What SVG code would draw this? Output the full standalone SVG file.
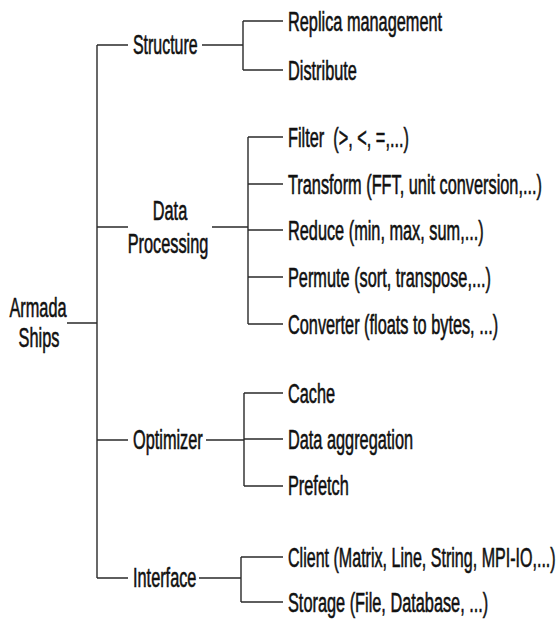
<svg xmlns="http://www.w3.org/2000/svg" width="560" height="621" viewBox="0 0 560 621">
  <style>
    .edge { fill: none; stroke: #2a2a2a; stroke-width: 1.4; }
    text { font-family: "Liberation Sans", Arial, sans-serif; font-size: 27px; fill: #111; stroke: #111; stroke-width: 0.6; }
    .mid { text-anchor: middle; }
  </style>
  <rect width="560" height="621" fill="#ffffff"/>

  <!-- tree connectors -->
  <g id="connectors" class="edge">
    <!-- root -->
    <path d="M67 323 H97 M97 45 V578"/>
    <!-- Structure -->
    <path d="M97 45 H128 M202 45 H243 M243 21 V70 M243 21 H283 M243 70 H283"/>
    <!-- Data Processing -->
    <path d="M97 227 H128 M212 227 H248 M248 137 V324 M248 137 H283 M248 184 H283 M248 230 H283 M248 277 H283 M248 324 H283"/>
    <!-- Optimizer -->
    <path d="M97 440 H128 M206 440 H244 M244 393 V486 M244 393 H283 M244 439 H283 M244 486 H283"/>
    <!-- Interface -->
    <path d="M97 578 H128 M199 578 H241 M241 557 V602 M241 557 H283 M241 602 H283"/>
  </g>

  <!-- root node -->
  <g id="node-armada">
    <text class="mid" transform="translate(38,317) scale(0.604,1)">Armada</text>
    <text class="mid" transform="translate(39,347) scale(0.604,1)">Ships</text>
  </g>

  <!-- second level -->
  <g id="node-structure">
    <text transform="translate(133,54) scale(0.59,1)">Structure</text>
  </g>
  <g id="node-data-processing">
    <text class="mid" transform="translate(170,220) scale(0.604,1)">Data</text>
    <text class="mid" transform="translate(168,253) scale(0.604,1)">Processing</text>
  </g>
  <g id="node-optimizer">
    <text transform="translate(133,449) scale(0.604,1)">Optimizer</text>
  </g>
  <g id="node-interface">
    <text transform="translate(133,587) scale(0.604,1)">Interface</text>
  </g>

  <!-- leaves -->
  <g id="node-replica">
    <text transform="translate(288,31) scale(0.604,1)">Replica management</text>
  </g>
  <g id="node-distribute">
    <text transform="translate(288,80) scale(0.604,1)">Distribute</text>
  </g>
  <g id="node-filter">
    <text transform="translate(288,147) scale(0.604,1)">Filter&#160; (&gt;, &lt;, =,...)</text>
  </g>
  <g id="node-transform">
    <text transform="translate(288,194) scale(0.604,1)">Transform (FFT, unit conversion,...)</text>
  </g>
  <g id="node-reduce">
    <text transform="translate(288,240) scale(0.604,1)">Reduce (min, max, sum,...)</text>
  </g>
  <g id="node-permute">
    <text transform="translate(288,287) scale(0.604,1)">Permute (sort, transpose,...)</text>
  </g>
  <g id="node-converter">
    <text transform="translate(288,334) scale(0.604,1)">Converter (floats to bytes, ...)</text>
  </g>
  <g id="node-cache">
    <text transform="translate(288,403) scale(0.604,1)">Cache</text>
  </g>
  <g id="node-aggregation">
    <text transform="translate(288,449) scale(0.604,1)">Data aggregation</text>
  </g>
  <g id="node-prefetch">
    <text transform="translate(288,495) scale(0.604,1)">Prefetch</text>
  </g>
  <g id="node-client">
    <text transform="translate(288,567) scale(0.595,1)">Client (Matrix, Line, String, MPI-IO,...)</text>
  </g>
  <g id="node-storage">
    <text transform="translate(288,612) scale(0.604,1)">Storage (File, Database, ...)</text>
  </g>
</svg>
